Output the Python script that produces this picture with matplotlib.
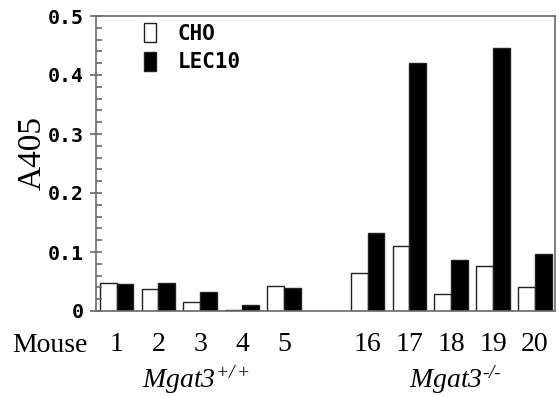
import matplotlib
matplotlib.use("Agg")
import matplotlib.pyplot as plt
from matplotlib.patches import Patch
from matplotlib.ticker import MultipleLocator

plt.rcParams['mathtext.fontset'] = 'custom'
plt.rcParams['mathtext.rm'] = 'Liberation Serif:italic'
plt.rcParams['mathtext.it'] = 'Liberation Serif:italic'

mice = ['1', '2', '3', '4', '5', '16', '17', '18', '19', '20']
positions = [0, 1, 2, 3, 4, 6, 7, 8, 9, 10]
cho = [0.047, 0.038, 0.016, 0.002, 0.042, 0.064, 0.110, 0.028, 0.076, 0.040]
lec10 = [0.045, 0.047, 0.033, 0.011, 0.039, 0.133, 0.420, 0.086, 0.445, 0.097]
yticks = [0, 0.1, 0.2, 0.3, 0.4, 0.5]
ytick_labels = ['0', '0.1', '0.2', '0.3', '0.4', '0.5']
group_labels = [r'$Mgat3^{+/+}$', r'$Mgat3^{\text{-/-}}$']
group_centers = [1.9, 8.1]

W, H = 559, 396
fig = plt.figure(figsize=(W / 100, H / 100), dpi=100)
ax = fig.add_axes([96 / W, 1 - 311 / H, (555 - 96) / W, (311 - 16) / H])

bw = 0.40
ax.bar([p - bw / 2 for p in positions], cho, width=bw, color='white',
       edgecolor='#222222', linewidth=1.0, label='CHO')
ax.bar([p + bw / 2 for p in positions], lec10, width=bw, color='black',
       edgecolor='#222222', linewidth=1.0, label='LEC10')

ax.set_xlim(-0.49, 10.48)
ax.set_ylim(0, 0.5)

spine_col = '#6a6a6a'
for s in ax.spines.values():
    s.set_color(spine_col)
    s.set_linewidth(1.2)

ax.set_yticks(yticks)
ax.set_yticklabels(ytick_labels, family='DejaVu Sans Mono', fontweight='bold',
                   fontsize=14.3)
ax.yaxis.set_minor_locator(MultipleLocator(0.02))
ax.tick_params(axis='y', which='major', direction='inout', length=8, width=1.2,
               color=spine_col, pad=4.5)
ax.tick_params(axis='y', which='minor', direction='in', length=4, width=1.2,
               color=spine_col)

ax.set_xticks(positions)
ax.set_xticklabels(mice, family='Liberation Serif', fontsize=20)
ax.tick_params(axis='x', length=0, pad=15)

ax.set_ylabel('A405', family='Liberation Serif', fontsize=24)
ax.yaxis.set_label_coords(-0.1046, 0.536)

fig.text(12 / W, 1 - 346 / H, 'Mouse', family='Liberation Serif', fontsize=20,
         va='center', ha='left')
for lab, c in zip(group_labels, group_centers):
    ax.annotate(lab, xy=(c, 0), xycoords=('data', 'figure fraction'),
                xytext=(0, 0), textcoords='offset points',
                ha='center', va='bottom', fontsize=20, annotation_clip=False)

handles = [Patch(facecolor='white', edgecolor='#222222', linewidth=1.0),
           Patch(facecolor='black', edgecolor='#222222', linewidth=1.0)]
ax.legend(handles, ['CHO', 'LEC10'], loc='upper left',
          bbox_to_anchor=(48 / 459, (311 - 23) / 295), frameon=False,
          borderpad=0, borderaxespad=0, handlelength=0.58,
          handleheight=1.05, handletextpad=1.05, labelspacing=0.38,
          prop={'family': 'DejaVu Sans Mono', 'weight': 'bold', 'size': 15})

fig.savefig('out.png', dpi=100)
